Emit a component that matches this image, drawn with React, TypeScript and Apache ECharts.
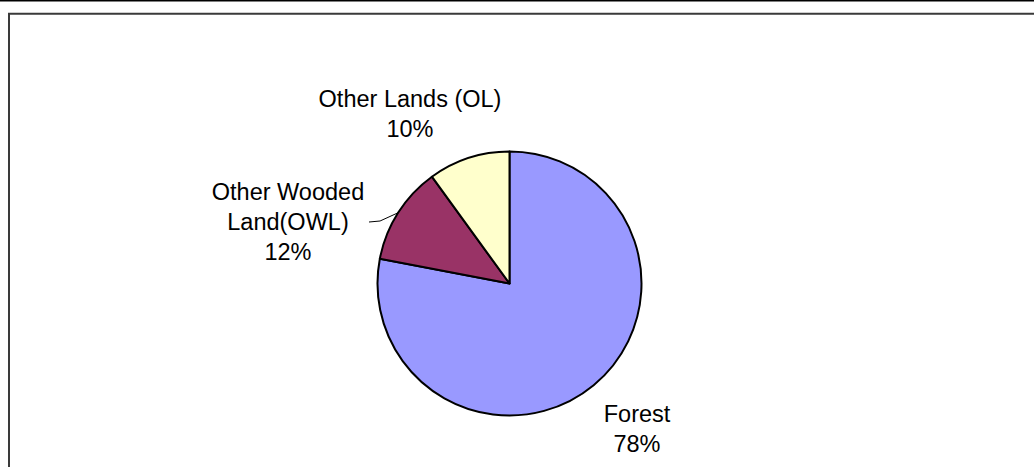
import React, { useEffect, useRef } from "react";
import * as echarts from "echarts";

const categories = ["Forest", "Other Wooded Land(OWL)", "Other Lands (OL)"];
const labelTexts = ["Forest", "Other Wooded\nLand(OWL)", "Other Lands (OL)"];
const values = [78, 12, 10];
const colors = ["#9999FF", "#993366", "#FFFFCC"];
// label block centres (x, y) in px
const labelPos: [number, number][] = [
  [637, 429],
  [288, 222],
  [410, 114],
];

export default function App() {
  const ref = useRef<HTMLDivElement>(null);
  useEffect(() => {
    if (!ref.current) return;
    const chart = echarts.init(ref.current, null, { renderer: "svg" });
    const font = "'Liberation Sans', Arial, sans-serif";
    chart.setOption({
      animation: false,
      backgroundColor: "#ffffff",
      graphic: [
        {
          type: "line",
          shape: { x1: 0, y1: 0.75, x2: 1034, y2: 0.75 },
          style: { stroke: "#000", lineWidth: 1.5 },
          silent: true,
        },
        {
          type: "polyline",
          shape: { points: [[9, 467], [9, 13.7], [1034, 13.7]] },
          style: { stroke: "#3a3a3a", lineWidth: 2, fill: null },
          silent: true,
        },
      ],
      series: [
        {
          type: "pie",
          center: [509.5, 283.5],
          radius: 132,
          startAngle: 90,
          clockwise: true,
          avoidLabelOverlap: false,
          itemStyle: { borderColor: "#000", borderWidth: 2 },
          label: {
            show: true,
            position: "outside",
            color: "#000",
            fontFamily: font,
            fontSize: 23.5,
            lineHeight: 30,
            align: "center",
            formatter: (p: any) => `${labelTexts[p.dataIndex]}\n${Math.round(p.percent)}%`,
          },
          labelLine: { show: false, lineStyle: { color: "#000", width: 1 } },
          labelLayout: (p: any) => {
            const [lx, ly] = labelPos[p.dataIndex];
            const res: any = { x: lx, y: ly, align: "center", verticalAlign: "middle" };
            if (p.dataIndex === 1 && p.labelLinePoints && p.labelLinePoints[0]) {
              const a = p.labelLinePoints[0];
              res.labelLinePoints = [a, [a[0] - 18, ly - 1], [lx + 81, ly]];
            }
            return res;
          },
          emphasis: { disabled: true },
          data: categories.map((name, i) => ({
            name,
            value: values[i],
            itemStyle: { color: colors[i] },
            labelLine: { show: i === 1 },
          })),
        },
      ],
    });
    return () => chart.dispose();
  }, []);
  return (
    <div
      ref={ref}
      style={{ position: "absolute", left: 0, top: 0, width: 1034, height: 467 }}
    />
  );
}
